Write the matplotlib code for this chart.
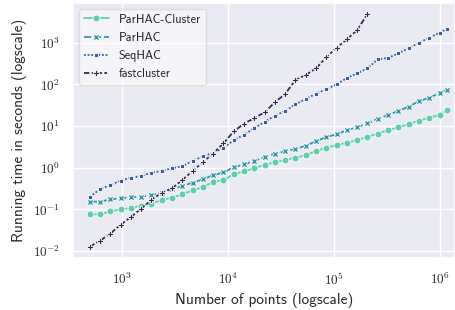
import math
import matplotlib
matplotlib.use("Agg")
import matplotlib.pyplot as plt
import seaborn as sns
from matplotlib.ticker import FuncFormatter, FixedLocator, NullLocator

# ---- data ----
n_points = [500, 625, 781, 977, 1221, 1526, 1907, 2384, 2980, 3725, 4657, 5821,
            7276, 9095, 11369, 14211, 17764, 22204, 27756, 34694, 43368, 54210,
            67762, 84703, 105879, 132349, 165436, 206795, 258494, 323117, 403897,
            504871, 631089, 788861, 986076, 1160000]

parhac_cluster = [0.076, 0.076, 0.089, 0.100, 0.107, 0.123, 0.138, 0.166, 0.191, 0.229,
                  0.288, 0.339, 0.457, 0.501, 0.700, 0.813, 0.977, 1.17, 1.35, 1.53,
                  1.74, 2.00, 2.51, 3.02, 3.47, 3.98, 4.57, 5.50, 6.61, 7.94, 9.33,
                  11.0, 13.5, 15.8, 18.6, 24.0]

parhac = [0.153, 0.153, 0.174, 0.184, 0.198, 0.201, 0.225, 0.251, 0.302, 0.363, 0.437,
          0.525, 0.661, 0.767, 1.03, 1.20, 1.45, 1.81, 2.14, 2.47, 2.81, 3.37, 4.30,
          5.46, 6.31, 8.04, 9.31, 11.6, 15.0, 18.4, 23.0, 29.2, 39.2, 47.9, 61.0, 74.5]

seqhac = [0.201, 0.302, 0.385, 0.488, 0.575, 0.631, 0.759, 0.834, 0.966, 1.08, 1.47,
          1.86, 2.29, 2.95, 4.57, 6.17, 8.91, 12.5, 17.7, 23.0, 33.1, 44.6, 59.7, 76.7,
          100, 142, 184, 243, 398, 430, 556, 733, 1000, 1297, 1738, 2133]

fastcluster = [0.0127, 0.0177, 0.0261, 0.0429, 0.0656, 0.104, 0.168, 0.251, 0.320,
               0.507, 0.834, 1.36, 2.19, 3.85, 7.41, 11.4, 15.5, 21.3, 37.1, 58.9,
               127, 168, 243, 446, 759, 1202, 2018, 4898]

series_names = ["ParHAC-Cluster", "ParHAC", "SeqHAC", "fastcluster"]
series_values = [parhac_cluster, parhac, seqhac, fastcluster]

x_ticks = [1e3, 1e4, 1e5, 1e6]
y_ticks = [1e-2, 1e-1, 1e0, 1e1, 1e2, 1e3]

x_label = "Number of points (logscale)"
y_label = "Running time in seconds (logscale)"

# ---- style ----
sns.set_theme(style="darkgrid")
plt.rcParams["font.family"] = ["cmss10", "DejaVu Sans"]
plt.rcParams["mathtext.fontset"] = "cm"
plt.rcParams["axes.unicode_minus"] = False

colors = sns.color_palette("mako_r", 4)
markers = ["o", "X", (4, 0, 45), "P"]
dash_styles = [None, (4, 1.5), (1, 1), (3, 1.25, 1.5, 1.25)]

fig = plt.figure(figsize=(4.55, 3.10), dpi=100)
ax = fig.add_axes([0.161, 0.1668, 0.839, 0.8245])

for name, vals, c, m, d in zip(series_names, series_values, colors, markers, dash_styles):
    xs = n_points[:len(vals)]
    line, = ax.plot(xs, vals, color=c, marker=m, markersize=5.0,
                    markeredgecolor="white", markeredgewidth=0.6,
                    linewidth=1.3, label=name)
    if d is not None:
        line.set_dashes(d)

ax.set_xscale("log")
ax.set_yscale("log")
ax.set_xlim(350, 1.38e6)
ax.set_ylim(0.0067, 9100)

fmt = FuncFormatter(lambda v, p: r"$10^{%d}$" % round(math.log10(v)))
ax.xaxis.set_major_locator(FixedLocator(x_ticks))
ax.yaxis.set_major_locator(FixedLocator(y_ticks))
ax.xaxis.set_major_formatter(fmt)
ax.yaxis.set_major_formatter(fmt)
ax.xaxis.set_minor_locator(NullLocator())
ax.yaxis.set_minor_locator(NullLocator())
ax.tick_params(labelsize=9.5, colors="#262626")

ax.set_xlabel(x_label, fontsize=11, color="#262626")
ax.set_ylabel(y_label, fontsize=11, color="#262626")

leg = ax.legend(loc="upper left", fontsize=8.8, frameon=True, facecolor="white",
                framealpha=0.55, edgecolor="#cccccc", handlelength=2.0)

fig.savefig("out.png", dpi=100)
